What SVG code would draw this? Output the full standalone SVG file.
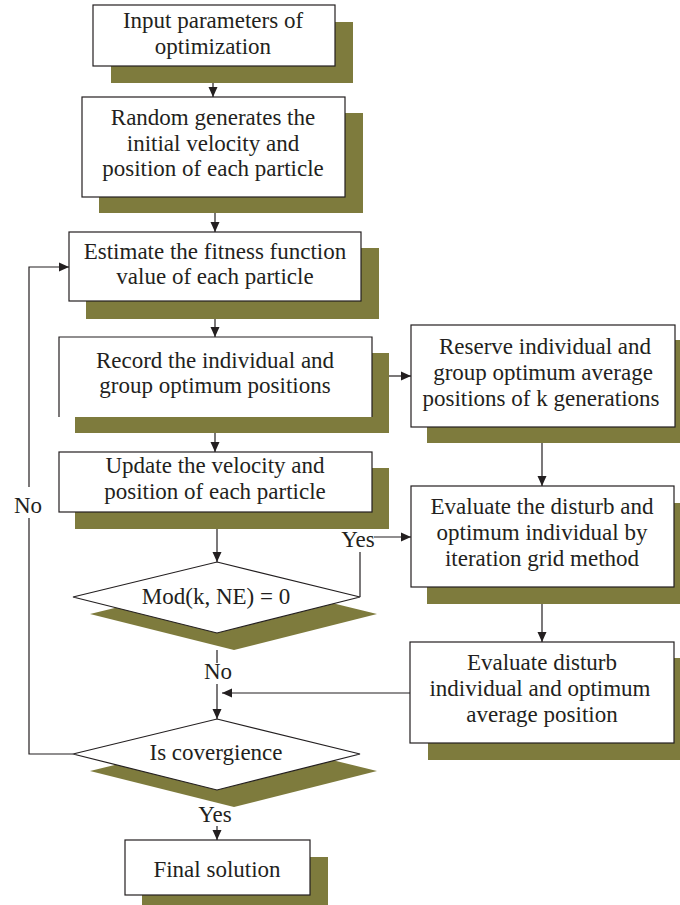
<svg xmlns="http://www.w3.org/2000/svg" width="680" height="905" viewBox="0 0 680 905">
<style>
.sh{fill:#7e7b3d}
.bx{fill:#fff;stroke:#231f20;stroke-width:1.2}
.bf{fill:#fff}
.ed{fill:none;stroke:#231f20;stroke-width:1.2}
.t{font-family:"Liberation Serif","Times New Roman",serif;font-size:23px;fill:#231f20;text-anchor:middle}
.c{fill:none;stroke:#231f20;stroke-width:1.2}
</style>
<defs>
<marker id="ah" viewBox="0 0 10 10" refX="10" refY="5" markerWidth="10" markerHeight="10" markerUnits="userSpaceOnUse" orient="auto">
<path d="M0,0.5 L10,5 L0,9.5 Z" fill="#231f20"/>
</marker>
</defs>
<rect width="680" height="905" fill="#fff"/>

<g id="input">
<rect class="sh" x="111" y="22" width="242" height="61"/>
<rect class="bx" x="93" y="5" width="242" height="61"/>
<text class="t" x="213" y="28">Input parameters of</text>
<text class="t" x="213" y="54">optimization</text>
</g>

<g id="random">
<rect class="sh" x="99" y="113" width="264" height="100"/>
<rect class="bx" x="82" y="97" width="263" height="100"/>
<text class="t" x="213" y="125">Random generates the</text>
<text class="t" x="213" y="151">initial velocity and</text>
<text class="t" x="213" y="176">position of each particle</text>
</g>

<g id="estimate">
<rect class="sh" x="86" y="248" width="293" height="71"/>
<rect class="bx" x="69" y="232" width="292" height="69"/>
<text class="t" x="215" y="259">Estimate the fitness function</text>
<text class="t" x="215" y="284">value of each particle</text>
</g>

<g id="record">
<rect class="sh" x="75" y="353" width="314" height="80"/>
<rect class="bf" x="59" y="337" width="313" height="80"/>
<path class="ed" d="M59 417 V337 H372 V417"/>
<text class="t" x="215" y="368">Record the individual and</text>
<text class="t" x="215" y="393">group optimum positions</text>
</g>

<g id="update">
<rect class="sh" x="75" y="468" width="314" height="61"/>
<rect class="bx" x="59" y="452" width="313" height="60"/>
<text class="t" x="215" y="473">Update the velocity and</text>
<text class="t" x="215" y="499">position of each particle</text>
</g>

<g id="mod">
<polygon class="sh" points="234,579 377,614 234,650 90,614"/>
<polygon class="bx" points="217,562 360,597 217,633 73,597"/>
<text class="t" x="216" y="604">Mod(k, NE) = 0</text>
</g>

<g id="reserve">
<rect class="sh" x="427" y="340" width="265" height="103"/>
<rect class="bx" x="411" y="325" width="264" height="102"/>
<text class="t" x="545" y="354">Reserve individual and</text>
<text class="t" x="543" y="380">group optimum average</text>
<text class="t" x="541" y="406">positions of k generations</text>
</g>

<g id="evaluate1">
<rect class="sh" x="427" y="503" width="265" height="101"/>
<rect class="bx" x="411" y="486" width="263" height="101"/>
<text class="t" x="542" y="514">Evaluate the disturb and</text>
<text class="t" x="542" y="540">optimum individual by</text>
<text class="t" x="542" y="566">iteration grid method</text>
</g>

<g id="evaluate2">
<rect class="sh" x="428" y="658" width="264" height="102"/>
<rect class="bx" x="410" y="642" width="264" height="101"/>
<text class="t" x="542" y="670">Evaluate disturb</text>
<text class="t" x="540" y="696">individual and optimum</text>
<text class="t" x="542" y="722">average position</text>
</g>

<g id="convergence">
<polygon class="sh" points="234,736 377,771 234,807 90,771"/>
<polygon class="bx" points="217,719 360,754 217,790 73,754"/>
<text class="t" x="216" y="760">Is covergience</text>
</g>

<g id="final">
<rect class="sh" x="142" y="857" width="186" height="55"/>
<rect class="bx" x="125" y="840" width="185" height="55"/>
<text class="t" x="217" y="877">Final solution</text>
</g>

<g id="connectors">
<path class="c" d="M213 83 V97" marker-end="url(#ah)"/>
<path class="c" d="M215 213 V232" marker-end="url(#ah)"/>
<path class="c" d="M215 319 V337" marker-end="url(#ah)"/>
<path class="c" d="M215 433 V452" marker-end="url(#ah)"/>
<path class="c" d="M217 529 V562" marker-end="url(#ah)"/>
<path class="c" d="M389 376 H411" marker-end="url(#ah)"/>
<path class="c" d="M542 443 V486" marker-end="url(#ah)"/>
<path class="c" d="M542 604 V642" marker-end="url(#ah)"/>
<path class="c" d="M360 597 V552"/>
<path class="c" d="M374 537 H411" marker-end="url(#ah)"/>
<path class="c" d="M217 650 V663"/>
<path class="c" d="M217 684 V719" marker-end="url(#ah)"/>
<path class="c" d="M410 693 H222" marker-end="url(#ah)"/>
<path class="c" d="M73 754 H29 V518"/>
<path class="c" d="M29 487 V267 H69" marker-end="url(#ah)"/>
<path class="c" d="M217 826 V840" marker-end="url(#ah)"/>
<text class="t" x="358" y="547">Yes</text>
<text class="t" x="218" y="679">No</text>
<text class="t" x="28" y="513">No</text>
<text class="t" x="215" y="822">Yes</text>
</g>
</svg>
